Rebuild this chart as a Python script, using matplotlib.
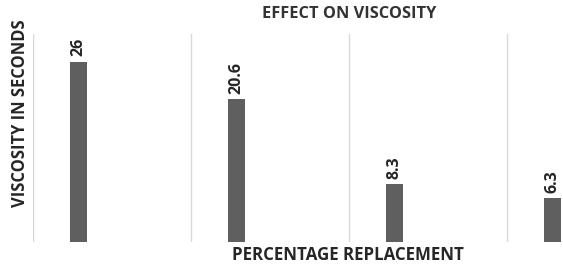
import numpy as np
import matplotlib.pyplot as plt

# datos del grafico
categorias = ['0%', '10%', '20%', '30%']
viscosidad = [26, 20.6, 8.3, 6.3]
etiquetas = ['26', '20.6', '8.3', '6.3']

plt.rcParams['font.family'] = ['Open Sans', 'DejaVu Sans']

fig = plt.figure(figsize=(5.63, 2.66), dpi=100)
ax = fig.add_axes([33 / 563, 24 / 266, 530 / 563, 208 / 266])

x = np.arange(len(categorias))
pos = x - 0.21
ax.bar(pos, viscosidad, width=0.107, color='#5f5f5f', zorder=3)

# separadores verticales entre categorias
for s in np.arange(len(categorias)) - 0.5:
    ax.axvline(s, color='#d9d9d9', linewidth=1, zorder=1)

for p, v, t in zip(pos, viscosidad, etiquetas):
    ax.text(p, v + 0.8, t, rotation=90, ha='center', va='bottom',
            fontsize=11.5, fontweight='bold', color='#262626')

ax.set_xlim(-0.5, -0.5 + 530 / 158)
ax.set_ylim(0, 30)
ax.set_xticks([])
ax.set_yticks([])
for sp in ax.spines.values():
    sp.set_visible(False)

fig.text(349 / 563, 1 - 14.5 / 266, 'EFFECT ON VISCOSITY', ha='center', va='center',
         fontsize=11.8, fontweight='bold', color='#333333')
fig.text(348 / 563, 1 - 255.5 / 266, 'PERCENTAGE REPLACEMENT', ha='center', va='center',
         fontsize=12.2, fontweight='bold', color='#262626')
fig.text(20 / 563, 1 - 113 / 266, 'VISCOSITY IN SECONDS', ha='center', va='center',
         rotation=90, fontsize=11.9, fontweight='bold', color='#262626')

fig.savefig('out.png', dpi=100)
